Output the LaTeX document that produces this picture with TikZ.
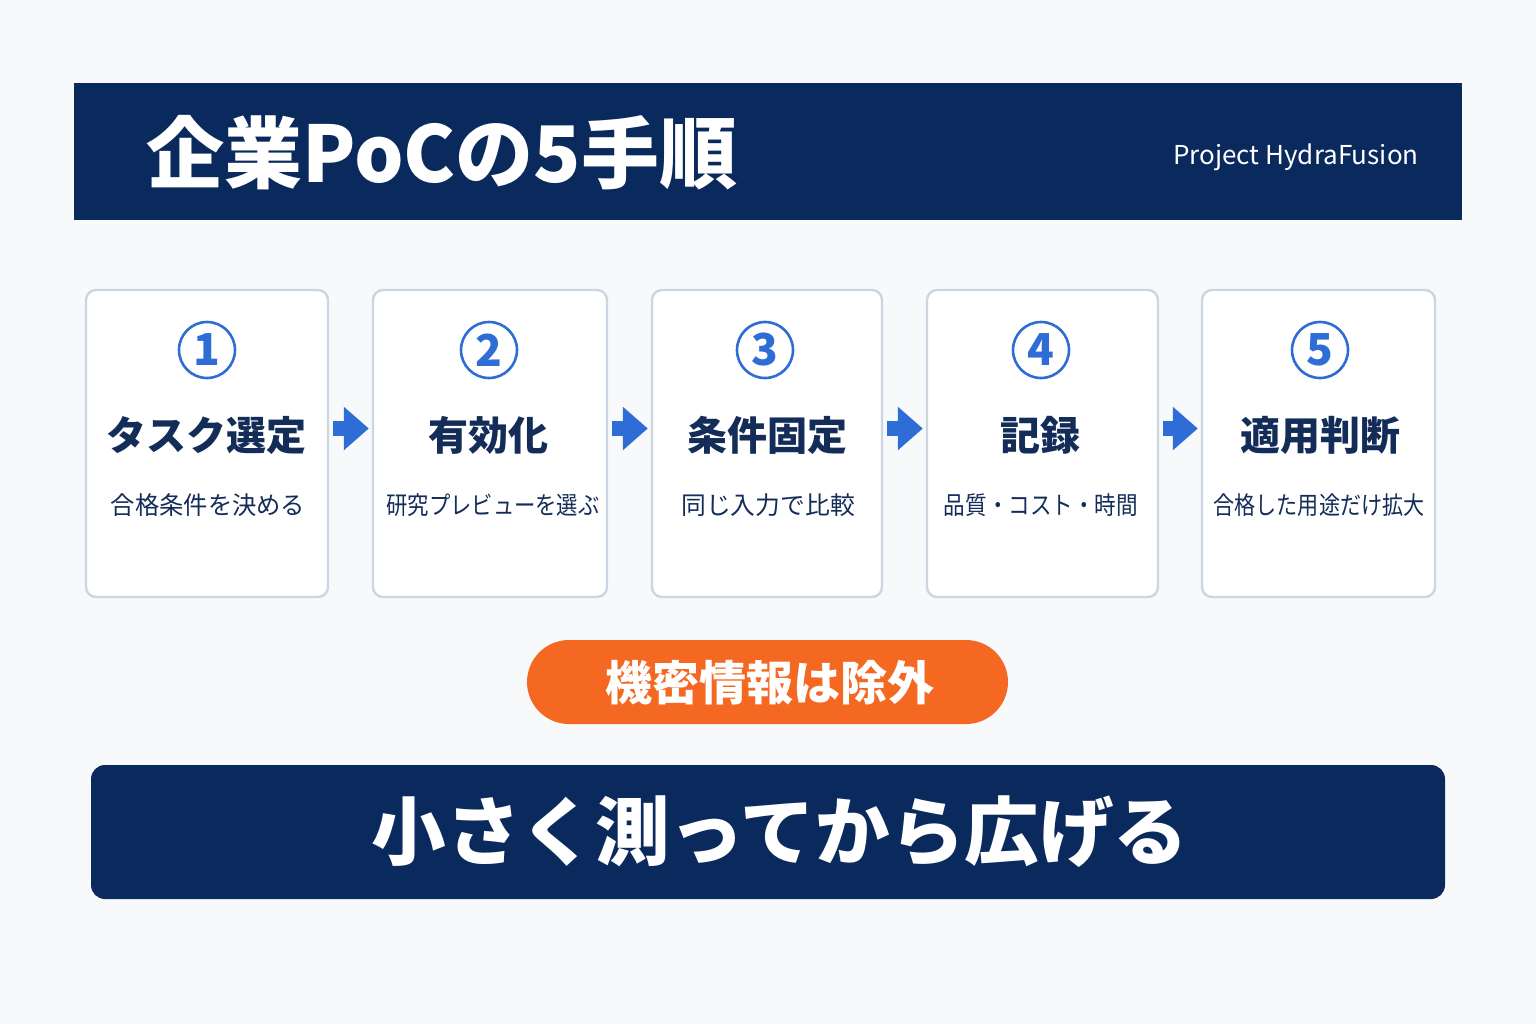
\documentclass[tikz,border=0pt]{standalone}
\usepackage{fontspec}
\setmainfont{Noto Sans CJK JP}
\usetikzlibrary{arrows.meta}

\definecolor{navy}{RGB}{10,42,94}
\definecolor{inknavy}{RGB}{20,44,88}
\definecolor{stepblue}{RGB}{46,108,214}
\definecolor{pillorange}{RGB}{244,104,34}
\definecolor{cardline}{RGB}{204,213,226}
\definecolor{paper}{RGB}{248,249,251}

\newcommand{\fsz}[1]{\fontsize{#1}{#1}\selectfont}

\begin{document}
\begin{tikzpicture}[x=0.5pt,y=-0.5pt,
  card/.style={draw=cardline, line width=1.2pt, fill=white, rounded corners=5pt, inner sep=0pt, minimum height=153.5pt},
  num/.style={circle, draw=stepblue, line width=1.3pt, minimum size=28pt, inner sep=0pt, text=stepblue, font=\fsz{22}\bfseries},
  steptitle/.style={text=inknavy, font=\fsz{20}\bfseries, inner sep=0pt},
  stepnote/.style={text=inknavy, font=\fsz{12.4}, inner sep=0pt},
  flow/.style={draw=stepblue, line width=7.5pt, -{Triangle[length=12.5pt, width=21pt]}}]

\useasboundingbox (0,0) rectangle (1536,1024);
\fill[paper] (0,0) rectangle (1536,1024);

% header
\fill[navy] (74,83) rectangle (1462,220);
\node[anchor=west, text=white, font=\fsz{39}\bfseries, inner sep=0pt] (title) at (146,153) {企業PoCの5手順};
\node[anchor=east, text=white, font=\fsz{13}, inner sep=0pt] (proj) at (1419,157) {Project HydraFusion};

% cards
\node[card, minimum width=121pt] (c1) at (207,443.5) {};
\node[card, minimum width=117pt] (c2) at (490,443.5) {};
\node[card, minimum width=115pt] (c3) at (767,443.5) {};
\node[card, minimum width=115.5pt] (c4) at (1042.5,443.5) {};
\node[card, minimum width=116.5pt] (c5) at (1318.5,443.5) {};

\node[num] (n1) at (207,350) {1};
\node[num] (n2) at (489,350) {2};
\node[num] (n3) at (765,350) {3};
\node[num] (n4) at (1041,350) {4};
\node[num] (n5) at (1320,350) {5};

\node[steptitle] (t1) at (206,435) {タスク選定};
\node[steptitle] (t2) at (488,435) {有効化};
\node[steptitle] (t3) at (767,435) {条件固定};
\node[steptitle] (t4) at (1040,435) {記録};
\node[steptitle] (t5) at (1320,435) {適用判断};

\node[stepnote, transform shape, xscale=0.98] (s1) at (208,505) {合格条件を決める};
\node[stepnote, transform shape, xscale=0.86] (s2) at (493,505) {研究プレビューを選ぶ};
\node[stepnote] (s3) at (768,505) {同じ入力で比較};
\node[stepnote, transform shape, xscale=0.87] (s4) at (1041,505) {品質・コスト・時間};
\node[stepnote, transform shape, xscale=0.85] (s5) at (1319,505) {合格した用途だけ拡大};

% arrows
\draw[flow] ([shift={(4,-15)}]c1.east) -- ([shift={(-3,-15)}]c2.west);
\draw[flow] ([shift={(4,-15)}]c2.east) -- ([shift={(-3,-15)}]c3.west);
\draw[flow] ([shift={(4,-15)}]c3.east) -- ([shift={(-3,-15)}]c4.west);
\draw[flow] ([shift={(4,-15)}]c4.east) -- ([shift={(-3,-15)}]c5.west);

% note
\node[fill=pillorange, rounded corners=21pt, minimum width=240.5pt, minimum height=42pt, inner sep=0pt] (pill) at (767.5,682) {};
\node[text=white, font=\fsz{23.5}\bfseries, inner sep=0pt] (pilltext) at (769.5,683) {機密情報は除外};

% footer
\node[fill=navy, rounded corners=7pt, minimum width=677pt, minimum height=67pt, inner sep=0pt] (foot) at (768,832) {};
\node[text=white, font=\fsz{37.3}\bfseries, inner sep=0pt] (foottext) at (780,832) {小さく測ってから広げる};

\end{tikzpicture}
\end{document}
